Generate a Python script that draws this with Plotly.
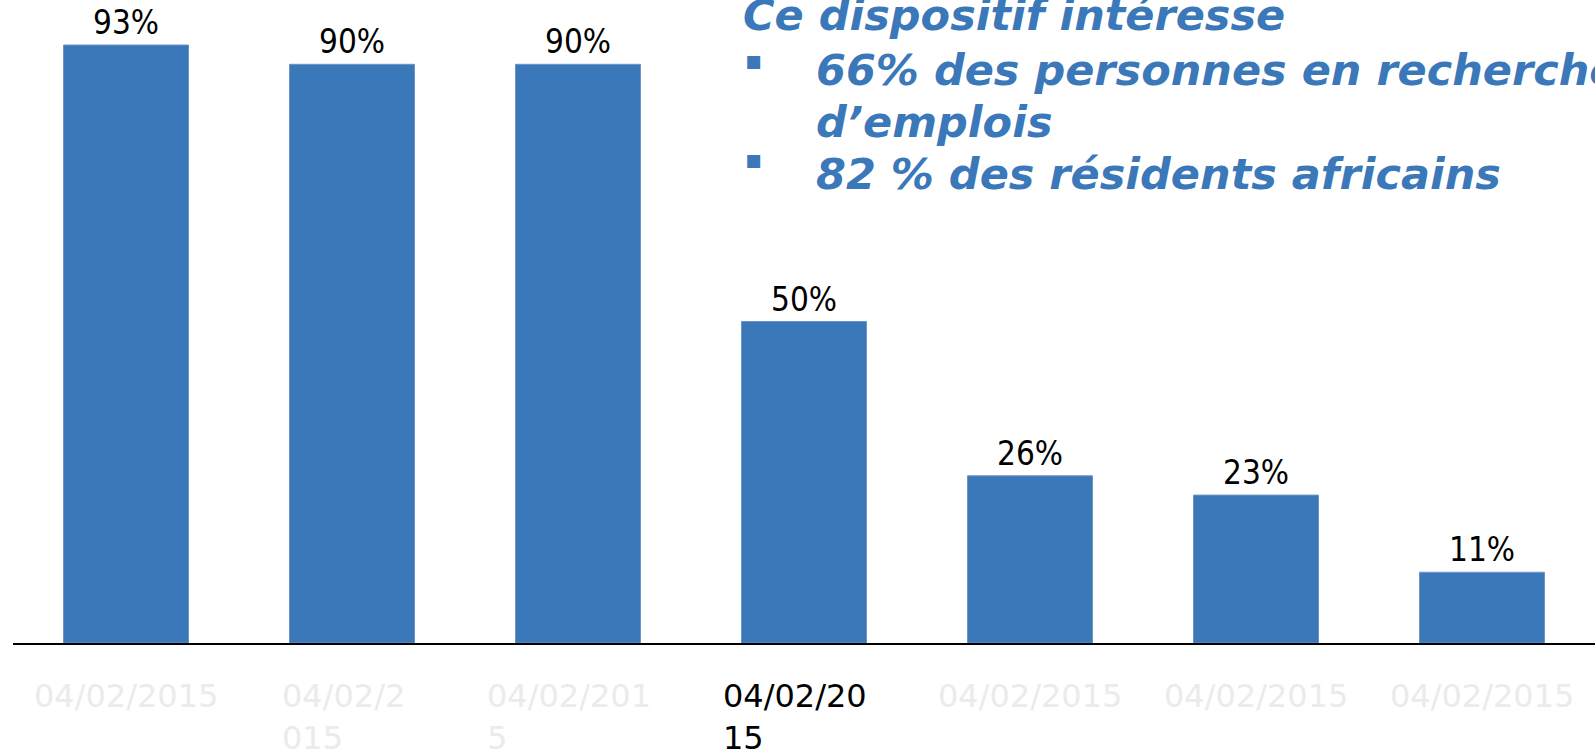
import plotly.graph_objects as go

# ---- data ----
values = [93, 90, 90, 50, 26, 23, 11]
tick_labels = ["04/02/2015", "04/02/2<br>015", "04/02/201<br>5", "04/02/20<br>15",
               "04/02/2015", "04/02/2015", "04/02/2015"]
highlight_index = 3
title_lines = ["Ce dispositif intéresse"]
bullet_lines = [["66% des personnes en recherche", "d’emplois"],
                ["82 % des résidents africains"]]

# ---- style ----
W, H = 1595, 750
ML, MR, MT, MB = 13, 0, 0, 107
BLUE = "#3B78B9"
GRAY = "#EBEBEB"
plot_h = H - MT - MB
plot_w = W - ML - MR

def px_x(px):
    return (px - ML) / plot_w

def px_y(px):
    return 1 - (px - MT) / plot_h

x = list(range(len(values)))

fig = go.Figure()
fig.add_trace(go.Bar(
    x=x, y=values,
    marker=dict(color=BLUE, line=dict(color="#6A93C6", width=1)),
    width=0.553,
    text=[f"{v}%" for v in values],
    textposition="outside",
    textfont=dict(family="DejaVu Sans Condensed, DejaVu Sans", size=33, color="black"),
    cliponaxis=False,
    hoverinfo="skip",
))

annotations = []
# category labels
for i, lab in enumerate(tick_labels):
    annotations.append(dict(
        x=i, y=0, xref="x", yref="paper",
        text=lab, showarrow=False, align="left",
        xanchor="center", yanchor="top",
        yshift=-32, xshift=(-9 if "<br>" in lab else 0),
        font=dict(family="DejaVu Sans", size=32,
                  color=("black" if i == highlight_index else GRAY)),
    ))

FS = 43
tfont = dict(family="DejaVu Sans", size=FS, color=BLUE, weight="bold", style="italic")

def text_line(txt, left_px, baseline_px):
    center = baseline_px - 0.36 * FS
    annotations.append(dict(
        x=px_x(left_px), y=px_y(center), xref="paper", yref="paper",
        text=txt, showarrow=False, xanchor="left", yanchor="middle",
        font=tfont,
    ))

text_line(title_lines[0], 741, 30.5)
baselines = [[85, 137], [189]]
bullet_centers = [59.5, 159]
for b, lines in enumerate(bullet_lines):
    annotations.append(dict(
        x=px_x(754), y=px_y(bullet_centers[b]), xref="paper", yref="paper",
        text="▪", showarrow=False, xanchor="center", yanchor="middle",
        font=dict(family="DejaVu Sans", size=26, color=BLUE),
    ))
    for j, ln in enumerate(lines):
        text_line(ln, 814, baselines[b][j])

fig.update_layout(
    width=W, height=H, autosize=False,
    margin=dict(l=ML, r=MR, t=MT, b=MB, pad=0),
    paper_bgcolor="white", plot_bgcolor="white",
    showlegend=False,
    bargap=0.447,
    xaxis=dict(range=[-0.5, 6.5], showticklabels=False, ticks="", showgrid=False,
               zeroline=False, showline=True, linecolor="black", linewidth=2,
               fixedrange=True),
    yaxis=dict(range=[0, 100], visible=False, showgrid=False, zeroline=False,
               fixedrange=True),
    annotations=annotations,
)

fig.write_html("out.html", config={"displayModeBar": False},
               post_script="document.body.style.margin='0';document.body.style.overflow='hidden';")
